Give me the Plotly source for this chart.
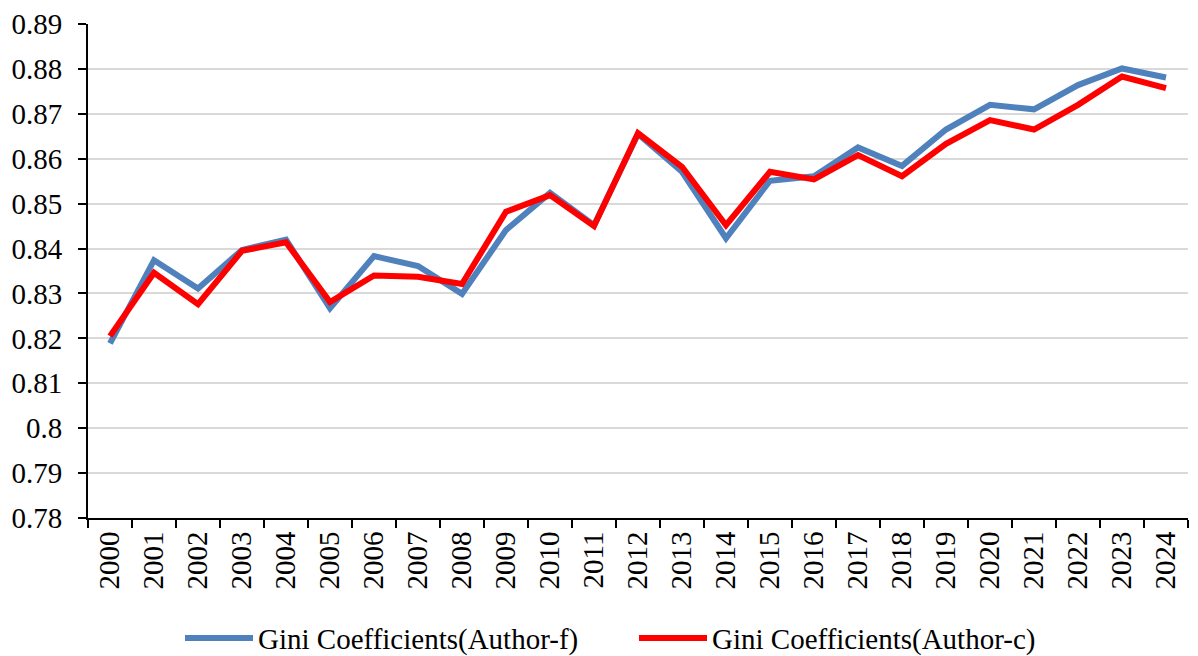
import plotly.graph_objects as go

years = [str(y) for y in range(2000, 2025)]
gini_f = [0.8189, 0.8374, 0.8311, 0.8397, 0.8420, 0.8267, 0.8383, 0.8361, 0.8299,
          0.8441, 0.8524, 0.8452, 0.8655, 0.8571, 0.8423, 0.8551, 0.8561, 0.8625,
          0.8584, 0.8665, 0.8720, 0.8710, 0.8764, 0.8801, 0.8781]
gini_c = [0.8205, 0.8346, 0.8276, 0.8395, 0.8414, 0.8281, 0.8340, 0.8337, 0.8321,
          0.8482, 0.8519, 0.8450, 0.8657, 0.8582, 0.8452, 0.8571, 0.8554, 0.8608,
          0.8561, 0.8633, 0.8686, 0.8665, 0.8720, 0.8783, 0.8757]
name_f = "Gini Coefficients(Author-f)"
name_c = "Gini Coefficients(Author-c)"
y_tickvals = [0.78, 0.79, 0.80, 0.81, 0.82, 0.83, 0.84, 0.85, 0.86, 0.87, 0.88, 0.89]
y_ticktext = ["0.78", "0.79", "0.8", "0.81", "0.82", "0.83", "0.84", "0.85", "0.86", "0.87", "0.88", "0.89"]

font_family = "Liberation Serif"
fs = 29

fig = go.Figure()
fig.add_trace(go.Scatter(x=years, y=gini_f, mode="lines", name=name_f,
                         line=dict(color="#4F81BD", width=6)))
fig.add_trace(go.Scatter(x=years, y=gini_c, mode="lines", name=name_c,
                         line=dict(color="#FF0000", width=6)))

# page has an 8px body margin, so the figure is sized to fit the window
fig.update_layout(
    width=1190, height=648,
    margin=dict(l=80, r=10, t=16, b=138, autoexpand=False),
    paper_bgcolor="white", plot_bgcolor="white",
    font=dict(family=font_family, size=fs, color="black"),
    showlegend=True,
    legend=dict(orientation="h", x=(172 - 80) / 1100, xanchor="left", y=-0.243, yanchor="middle",
                font=dict(size=fs, family=font_family), itemwidth=68,
                entrywidth=371, entrywidthmode="pixels",
                traceorder="normal"),
)
fig.update_xaxes(
    type="category", range=[-0.5, len(years) - 0.5],
    tickson="boundaries", ticks="outside", ticklen=8, tickwidth=2,
    tickcolor="black", showline=True, linecolor="black", linewidth=2,
    tickangle=-90, showgrid=False, tickfont=dict(size=fs, family=font_family),
    automargin=False,
)
fig.update_yaxes(
    range=[0.78, 0.89], tickvals=y_tickvals, ticktext=y_ticktext,
    ticks="outside", ticklen=8, tickwidth=2, tickcolor="black",
    showline=True, linecolor="black", linewidth=2,
    showgrid=True, gridcolor="#D9D9D9", gridwidth=2, zeroline=False,
    tickfont=dict(size=fs, family=font_family), ticklabelstandoff=10,
    automargin=False,
)

fig.write_html("out.html")
